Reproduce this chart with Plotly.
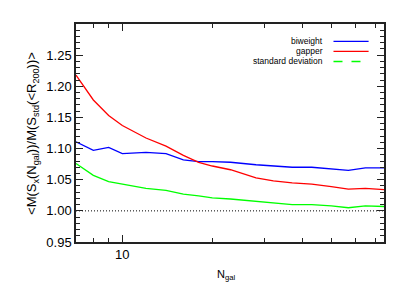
import plotly.graph_objects as go

n_gal = [7, 8, 9, 10, 12, 14, 16, 18, 20, 23, 28, 32, 37, 43, 50, 57, 65, 75]
biweight = [1.111, 1.097, 1.102, 1.092, 1.094, 1.092, 1.082, 1.079, 1.079, 1.078,
            1.074, 1.072, 1.070, 1.070, 1.067, 1.065, 1.069, 1.069]
gapper = [1.218, 1.178, 1.153, 1.137, 1.117, 1.104, 1.089, 1.078, 1.072, 1.066,
          1.053, 1.048, 1.045, 1.043, 1.039, 1.035, 1.036, 1.034]
std_dev = [1.076, 1.057, 1.047, 1.043, 1.036, 1.033, 1.027, 1.024, 1.021, 1.019,
           1.015, 1.012, 1.010, 1.010, 1.008, 1.005, 1.008, 1.007]
ref_level = 1.0
x_range = [7, 75]
y_ticks = [0.95, 1.00, 1.05, 1.10, 1.15, 1.20, 1.25]
x_minor = [8, 9, 20, 30, 40, 50, 60, 70]

FONT = "Liberation Sans, Arial, sans-serif"
fig = go.Figure()
fig.add_trace(go.Scatter(x=n_gal, y=biweight, mode="lines", line=dict(color="#0000ff", width=1.3)))
fig.add_trace(go.Scatter(x=n_gal, y=gapper, mode="lines", line=dict(color="#ff0000", width=1.3)))
fig.add_trace(go.Scatter(x=n_gal, y=std_dev, mode="lines", line=dict(color="#00ff00", width=1.3)))
fig.add_trace(go.Scatter(x=x_range, y=[ref_level, ref_level], mode="lines",
                         line=dict(color="black", width=1, dash="1px,2px")))

# legend (text right-aligned, line samples on the right)
legend_items = [("biweight", "#0000ff", "solid"), ("gapper", "#ff0000", "solid"),
                ("standard deviation", "#00ff00", "dash")]
for i, (name, col, dash) in enumerate(legend_items):
    yp = 0.92 - i * 0.046
    fig.add_annotation(xref="paper", yref="paper", x=0.808, y=yp, text=name, showarrow=False,
                       xanchor="right", yanchor="middle", font=dict(size=8.5, color="black", family=FONT))
    fig.add_shape(type="line", xref="paper", yref="paper", x0=0.836, x1=0.95, y0=yp, y1=yp,
                  line=dict(color=col, width=1.3, dash=dash))

# axis titles
fig.add_annotation(xref="paper", yref="paper", x=0.488, y=-0.11, xanchor="center", yanchor="top",
                   showarrow=False, text="N<sub>gal</sub>", font=dict(size=11, family=FONT, color="black"))
fig.add_annotation(xref="paper", yref="paper", x=-0.143, y=0.5, xanchor="center", yanchor="middle",
                   showarrow=False, textangle=-90,
                   text="<M(S<sub>x</sub>(N<sub>gal</sub>))/M(S<sub>std</sub>(<R<sub>200</sub>))>",
                   font=dict(size=13, family=FONT, color="black"))

fig.update_layout(
    width=407, height=291,
    margin=dict(l=76, r=23, t=24, b=49),
    paper_bgcolor="white", plot_bgcolor="white",
    showlegend=False,
    font=dict(family=FONT, color="black", size=13),
)
fig.update_xaxes(
    type="log", range=[0.8451, 1.8751], automargin=False,
    showline=True, linecolor="#222", linewidth=1.5, mirror="allticks",
    ticks="inside", ticklen=7, tickwidth=1, tickcolor="#222",
    tickvals=[10], ticktext=["10"], tickfont=dict(size=13),
    minor=dict(tickvals=x_minor, ticks="inside", ticklen=4, tickcolor="#222"),
    showgrid=False, zeroline=False,
)
fig.update_yaxes(
    range=[0.95, 1.30], automargin=False,
    showline=True, linecolor="#222", linewidth=1.5, mirror="allticks",
    ticks="inside", ticklen=7, tickwidth=1, tickcolor="#222",
    tickvals=y_ticks, tickformat=".2f", tickfont=dict(size=13),
    minor=dict(dtick=0.01, ticks="inside", ticklen=4, tickcolor="#222"),
    showgrid=False, zeroline=False,
)
fig.write_html("out.html", config={"displayModeBar": False},
               post_script="document.body.style.margin='0';")
